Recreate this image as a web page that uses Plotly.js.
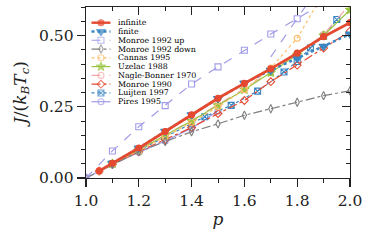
<!DOCTYPE html>
<html><head><meta charset="utf-8">
<script src="https://cdn.plot.ly/plotly-3.0.1.min.js"></script>
<style>html,body{margin:0;padding:0;background:#fff;}#chart{width:373px;height:242px;}</style>
</head><body><div id="chart"></div>
<script>
// ---- data ----
const seriesNames = ["infinite","finite","Monroe 1992 up","Monroe 1992 down","Cannas 1995","Uzelac 1988","Nagle-Bonner 1970","Monroe 1990","Luijten 1997","Pires 1995"];

const pInfinite = [1.05,1.1,1.2,1.3,1.4,1.5,1.6,1.7,1.8,1.9,2.0];
const jInfinite = [0.025,0.052,0.105,0.163,0.222,0.28,0.332,0.383,0.438,0.496,0.545];

const pFinite = [1.1,1.2,1.3,1.4,1.5,1.6,1.7,1.8,1.9,2.0];
const jFinite = [0.052,0.105,0.164,0.222,0.279,0.333,0.378,0.42,0.462,0.505];

const pMonroeUp = [1.0,1.1,1.2,1.3,1.4,1.5,1.6,1.7,1.8,1.9];
const jMonroeUp = [0.0,0.095,0.18,0.254,0.33,0.39,0.448,0.505,0.559,0.615];
const pMonroeUp2 = [1.70,1.83];
const jMonroeUp2 = [0.425,0.60];

const pMonroeDown = [1.0,1.1,1.2,1.3,1.4,1.5,1.6,1.7,1.8,1.9,2.0];
const jMonroeDown = [0.0,0.047,0.092,0.128,0.162,0.19,0.22,0.243,0.266,0.289,0.306];

const pCannas = [1.05,1.1,1.2,1.3,1.4,1.5,1.6,1.7,1.8,1.9];
const jCannas = [0.024,0.048,0.095,0.145,0.195,0.25,0.31,0.386,0.49,0.65];

const pUzelac = [1.1,1.2,1.3,1.4,1.5,1.6,1.7,1.8,1.9,2.0];
const jUzelac = [0.05,0.098,0.15,0.2,0.255,0.31,0.37,0.432,0.5,0.59];

const pNagle = [1.1,1.2,1.3,1.4,1.5,1.6,1.7,1.8,1.9,2.0];
const jNagle = [0.05,0.099,0.151,0.202,0.258,0.313,0.373,0.435,0.503,0.61];

const pMonroe90 = [1.05,1.1,1.2,1.3,1.4,1.5,1.6,1.7,1.8,1.9,2.0];
const jMonroe90 = [0.024,0.048,0.093,0.135,0.177,0.226,0.272,0.338,0.396,0.456,0.515];

const pLuijten = [1.1,1.2,1.3,1.4,1.45,1.55,1.65,1.75,1.8,1.85,1.9,1.95];
const jLuijten = [0.05,0.097,0.145,0.19,0.215,0.255,0.305,0.372,0.409,0.456,0.497,0.556];

const pPires = [1.0,1.05,1.1,1.2,1.3,1.4,1.5];
const jPires = [0.0,0.024,0.048,0.09,0.13,0.175,0.235];

// ---- styles ----
const styles = [
  {color:"#e5492f", dash:"solid",   width:2.8, symbol:"circle",          size:6},
  {color:"#3a86c3", dash:"dot",     width:2.4, symbol:"triangle-down",   size:8},
  {color:"#a19ce8", dash:"dash",    width:1.2, symbol:"square-open",     size:6},
  {color:"#7f7f7f", dash:"dashdot", width:1.2, symbol:"diamond-tall-open",size:6},
  {color:"#fdbf6f", dash:"dot",     width:1.2, symbol:"circle-open",     size:6},
  {color:"#98c440", dash:"solid",   width:1.2, symbol:"star",            size:7},
  {color:"#f4a6a6", dash:"dash",    width:1.2, symbol:"circle-open",     size:6},
  {color:"#e5492f", dash:"dashdot", width:1.2, symbol:"diamond-open",    size:6},
  {color:"#3a86c3", dash:"dot",     width:1.2, symbol:"square-x-open",   size:6},
  {color:"#a19ce8", dash:"solid",   width:1.2, symbol:"circle-open",     size:6}
];

const dataX = [pInfinite,pFinite,pMonroeUp,pMonroeDown,pCannas,pUzelac,pNagle,pMonroe90,pLuijten,pPires];
const dataY = [jInfinite,jFinite,jMonroeUp,jMonroeDown,jCannas,jUzelac,jNagle,jMonroe90,jLuijten,jPires];
const drawOrder = [9,8,7,6,5,4,3,2,1,0];

const traces = [];
drawOrder.forEach(i => {
  const s = styles[i];
  traces.push({x:dataX[i], y:dataY[i], type:"scatter", mode:"lines+markers", name:seriesNames[i],
    showlegend:false, cliponaxis:true,
    line:{color:s.color, dash:s.dash, width:s.width},
    marker:{symbol:s.symbol, size:s.size, color:s.color, line:{color:s.color, width:1.1}}});
  if (i === 2) {
    traces.push({x:pMonroeUp2, y:jMonroeUp2, type:"scatter", mode:"lines", showlegend:false,
      line:{color:s.color, dash:s.dash, width:s.width}});
  }
});

// ---- custom legend (plot-area pixel coords on overlay axes) ----
const W = 264.5, H = 171;
const legTop = 15.7, legStep = 8.78;
const annotations = [];
seriesNames.forEach((nm,i) => {
  const s = styles[i];
  const yy = legTop + i*legStep;
  traces.push({x:[5.5,15,24.5], y:[yy,yy,yy], xaxis:"x3", yaxis:"y3", type:"scatter", mode:"lines+markers",
    showlegend:false, hoverinfo:"skip", cliponaxis:false,
    line:{color:s.color, dash:s.dash, width:Math.min(s.width,2.4)},
    marker:{symbol:s.symbol, size:[0,s.size,0], color:s.color, line:{color:s.color, width:1.1}}});
  annotations.push({xref:"x3", yref:"y3", x:30.5, y:yy, text:nm, showarrow:false, xanchor:"left", yanchor:"middle",
    font:{family:"DejaVu Serif", size:7.9, color:"#000"}});
});

const tickFont = {family:"DejaVu Serif", size:15.5, color:"#222"};
const layout = {
  width:373, height:242, margin:{l:86, r:22.5, t:7, b:64},
  paper_bgcolor:"#fff", plot_bgcolor:"#fff", showlegend:false,
  xaxis:{range:[1.0,2.0], dtick:0.2, tick0:1.0, tickformat:".1f", ticks:"outside", ticklen:8, tickwidth:1.2,
    tickcolor:"#222", showline:true, linecolor:"#222", linewidth:1.3, mirror:true, showgrid:false, zeroline:false,
    tickfont:tickFont, minor:{dtick:0.1, tick0:1.0, ticks:"outside", ticklen:4, tickwidth:1, tickcolor:"#222"},
    title:{text:"<i>p</i>", font:{family:"DejaVu Serif", size:17, color:"#222"}, standoff:4}},
  yaxis:{range:[0,0.6], dtick:0.25, tick0:0, tickformat:".2f", ticks:"outside", ticklen:8, tickwidth:1.2,
    tickcolor:"#222", showline:true, linecolor:"#222", linewidth:1.3, mirror:true, showgrid:false, zeroline:false,
    tickfont:tickFont, minor:{dtick:0.05, tick0:0, ticks:"outside", ticklen:4, tickwidth:1, tickcolor:"#222"},
    title:{text:"<i>J</i>/(<i>k</i><sub><i>B</i></sub><i>T</i><sub><i>c</i></sub>)", font:{family:"DejaVu Serif", size:17, color:"#222"}, standoff:8}},
  xaxis2:{overlaying:"x", side:"top", range:[1.0,2.0], dtick:0.2, tick0:1.0, ticks:"inside", ticklen:8, tickwidth:1.2,
    tickcolor:"#222", showticklabels:false, showline:false, showgrid:false, zeroline:false,
    minor:{dtick:0.1, tick0:1.0, ticks:"inside", ticklen:4, tickwidth:1, tickcolor:"#222"}},
  yaxis2:{overlaying:"y", side:"right", range:[0,0.6], dtick:0.25, tick0:0, ticks:"inside", ticklen:8, tickwidth:1.2,
    tickcolor:"#222", showticklabels:false, showline:false, showgrid:false, zeroline:false,
    minor:{dtick:0.05, tick0:0, ticks:"inside", ticklen:4, tickwidth:1, tickcolor:"#222"}},
  xaxis3:{overlaying:"x", range:[0,W], visible:false, fixedrange:true},
  yaxis3:{overlaying:"y", range:[H,0], visible:false, fixedrange:true},
  annotations:annotations
};
traces.push({x:[null], y:[null], xaxis:"x2", yaxis:"y2", type:"scatter", mode:"markers", showlegend:false, hoverinfo:"skip"});
Plotly.newPlot("chart", traces, layout, {staticPlot:true, displayModeBar:false});
</script></body></html>
